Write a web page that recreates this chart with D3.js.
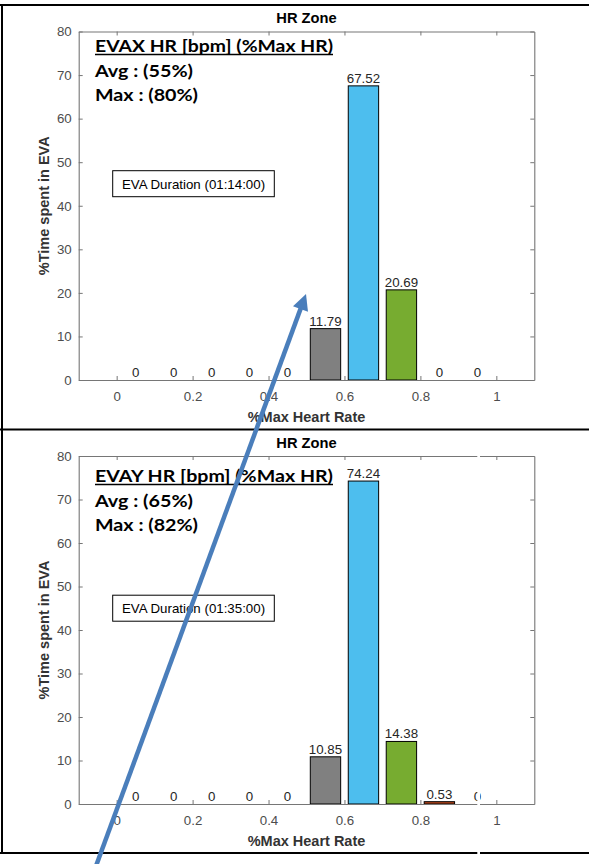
<!DOCTYPE html>
<html><head><meta charset="utf-8">
<script src="https://cdn.jsdelivr.net/npm/d3@7"></script>
<style>body{margin:0;background:#fff} svg{display:block}</style>
</head><body>
<svg id="c" width="589" height="864"></svg>
<script>
// ---------- data ----------
const binCenters = [0.05, 0.15, 0.25, 0.35, 0.45, 0.55, 0.65, 0.75, 0.85, 0.95];
const zoneColors = ["#808080","#808080","#808080","#808080","#808080","#808080","#4DBEEE","#77AC30","#B8461B","#7E2F8E"];
const evaxValues = [0, 0, 0, 0, 0, 11.79, 67.52, 20.69, 0, 0];
const evayValues = [0, 0, 0, 0, 0, 10.85, 74.24, 14.38, 0.53, 0];
const xTicks = [0, 0.2, 0.4, 0.6, 0.8, 1];
const xTickLabels = ["0", "0.2", "0.4", "0.6", "0.8", "1"];
const yTicks = [0, 10, 20, 30, 40, 50, 60, 70, 80];
const panelTitles = ["HR Zone", "HR Zone"];
const annotHeaders = ["EVAX HR [bpm] (%Max HR)", "EVAY HR [bpm] (%Max HR)"];
const annotAvg = ["Avg : (55%)", "Avg : (65%)"];
const annotMax = ["Max : (80%)", "Max : (82%)"];
const durations = ["EVA Duration (01:14:00)", "EVA Duration (01:35:00)"];
const xLabel = "%Max Heart Rate";
const yLabel = "%Time spent in EVA";

// ---------- layout ----------
const svg = d3.select("#c");
const W = 589, H = 864;
const plotLeft = 78.7, plotRight = 534.3;
const panels = [
  {values: evaxValues, top: 31.5, bottom: 380, annY: [52, 77, 101]},
  {values: evayValues, top: 456, bottom: 804, annY: [482, 507, 531]}
];
const barWidthFrac = 0.8;
const sans = "'Liberation Sans', Arial, Helvetica, sans-serif";
const calib = "Lato, 'Open Sans', sans-serif";

const x = d3.scaleLinear().domain([-0.1, 1.1]).range([plotLeft, plotRight]);
const binW = x(0.1) - x(0);

panels.forEach((p, i) => {
  const y = d3.scaleLinear().domain([0, 80]).range([p.bottom, p.top]);
  const g = svg.append("g");

  // bars
  const data = binCenters.map((c, k) => ({c, v: p.values[k], col: zoneColors[k]}));
  g.selectAll("rect.bar").data(data).join("rect")
    .attr("class", "bar")
    .attr("x", d => x(d.c) - binW * barWidthFrac / 2)
    .attr("width", binW * barWidthFrac)
    .attr("y", d => y(d.v))
    .attr("height", d => y(0) - y(d.v))
    .attr("fill", d => d.col)
    .attr("stroke", "#000")
    .attr("stroke-width", 1);

  // axes (box with inward ticks)
  const axB = d3.axisBottom(x).tickValues(xTicks).tickFormat((d, k) => xTickLabels[k]).tickSizeInner(-4).tickSizeOuter(0).tickPadding(11.5);
  const axT = d3.axisTop(x).tickValues(xTicks).tickFormat("").tickSizeInner(-4).tickSizeOuter(0);
  const axL = d3.axisLeft(y).tickValues(yTicks).tickSizeInner(-4).tickSizeOuter(0).tickPadding(7);
  const axR = d3.axisRight(y).tickValues(yTicks).tickFormat("").tickSizeInner(-4).tickSizeOuter(0);
  const gb = g.append("g").attr("transform", `translate(0,${p.bottom})`).call(axB);
  const gt = g.append("g").attr("transform", `translate(0,${p.top})`).call(axT);
  const gl = g.append("g").attr("transform", `translate(${plotLeft},0)`).call(axL);
  const gr = g.append("g").attr("transform", `translate(${plotRight},0)`).call(axR);
  [gb, gt, gl, gr].forEach(a => {
    a.selectAll(".domain").attr("stroke", "#767676").attr("stroke-width", 1.1);
    a.selectAll(".tick line").attr("stroke", "#767676");
    a.selectAll(".tick text").attr("fill", "#4d4d4d").style("font-family", sans).style("font-size", "13.3px");
  });

  // value labels
  g.selectAll("text.val").data(data).join("text")
    .attr("class", "val")
    .attr("x", d => x(d.c))
    .attr("y", d => y(d.v) - 3)
    .attr("text-anchor", "middle")
    .style("font-family", sans).style("font-size", "13.3px")
    .attr("fill", "#262626")
    .text(d => String(d.v));

  // title
  g.append("text").attr("x", (plotLeft + plotRight) / 2).attr("y", p.top - 8.5)
    .attr("text-anchor", "middle").style("font-family", sans).style("font-size", "14.7px")
    .style("font-weight", "bold").attr("fill", "#000").text(panelTitles[i]);

  // x label
  g.append("text").attr("x", (plotLeft + plotRight) / 2).attr("y", p.bottom + 42)
    .attr("text-anchor", "middle").style("font-family", sans).style("font-size", "14.5px")
    .style("font-weight", "bold").attr("fill", "#333").text(xLabel);

  // y label
  const yc = (p.top + p.bottom) / 2;
  g.append("text").attr("transform", `translate(48.5,${yc}) rotate(-90)`)
    .attr("text-anchor", "middle").style("font-family", sans).style("font-size", "14.5px")
    .style("font-weight", "bold").attr("fill", "#333").text(yLabel);

  // annotation text block
  const annX = 95;
  g.append("text").attr("x", annX).attr("y", p.annY[0])
    .style("font-family", calib).style("font-size", "17.5px").style("font-weight", "bold")
    .attr("fill", "#000").attr("textLength", 238).attr("lengthAdjust", "spacingAndGlyphs")
    .text(annotHeaders[i]);
  g.append("line").attr("x1", annX).attr("x2", annX + 238)
    .attr("y1", p.annY[0] + 2.4).attr("y2", p.annY[0] + 2.4)
    .attr("stroke", "#000").attr("stroke-width", 1.5);
  g.append("text").attr("x", annX).attr("y", p.annY[1])
    .style("font-family", calib).style("font-size", "17.5px").style("font-weight", "bold")
    .attr("fill", "#000").attr("textLength", 98).attr("lengthAdjust", "spacingAndGlyphs")
    .text(annotAvg[i]);
  g.append("text").attr("x", annX).attr("y", p.annY[2])
    .style("font-family", calib).style("font-size", "17.5px").style("font-weight", "bold")
    .attr("fill", "#000").attr("textLength", 103).attr("lengthAdjust", "spacingAndGlyphs")
    .text(annotMax[i]);

  // duration box
  const bx = 112.7, by = p.top + 139.2, bw = 161.6, bh = 26;
  g.append("rect").attr("x", bx).attr("y", by).attr("width", bw).attr("height", bh)
    .attr("fill", "#fff").attr("stroke", "#000").attr("stroke-width", 1);
  g.append("text").attr("x", bx + bw / 2).attr("y", by + 18)
    .attr("text-anchor", "middle").style("font-family", sans).style("font-size", "13.3px")
    .attr("fill", "#000").text(durations[i]);
});

// ---------- outer frames ----------
const frame = svg.append("g").attr("stroke", "#000").attr("stroke-width", 2).attr("fill", "none");
frame.append("line").attr("x1", 0).attr("x2", W).attr("y1", 5).attr("y2", 5);
frame.append("line").attr("x1", 0).attr("x2", W).attr("y1", 429.5).attr("y2", 429.5);
frame.append("line").attr("x1", 0).attr("x2", W).attr("y1", 853).attr("y2", 853);
frame.append("line").attr("x1", 2).attr("x2", 2).attr("y1", 4).attr("y2", 854);

// white seam in lower panel (part of the original composite)
svg.append("rect").attr("x", 477.3).attr("y", 446).attr("width", 2.7).attr("height", H - 446).attr("fill", "#fff");

// ---------- arrow ----------
const a0 = [96, 866], a1 = [306, 294];
const ang = Math.atan2(a1[1] - a0[1], a1[0] - a0[0]);
const headL = 16, headW = 8;
const base = [a1[0] - headL * Math.cos(ang), a1[1] - headL * Math.sin(ang)];
const arrowCol = "#4A7EBB";
svg.append("line").attr("x1", a0[0]).attr("y1", a0[1]).attr("x2", base[0] + 2 * Math.cos(ang)).attr("y2", base[1] + 2 * Math.sin(ang))
  .attr("stroke", arrowCol).attr("stroke-width", 4.5);
const px = -Math.sin(ang), py = Math.cos(ang);
svg.append("path")
  .attr("d", `M${a1[0]},${a1[1]}L${base[0] + px * headW},${base[1] + py * headW}L${base[0] - px * headW},${base[1] - py * headW}Z`)
  .attr("fill", arrowCol);
</script>
</body></html>
